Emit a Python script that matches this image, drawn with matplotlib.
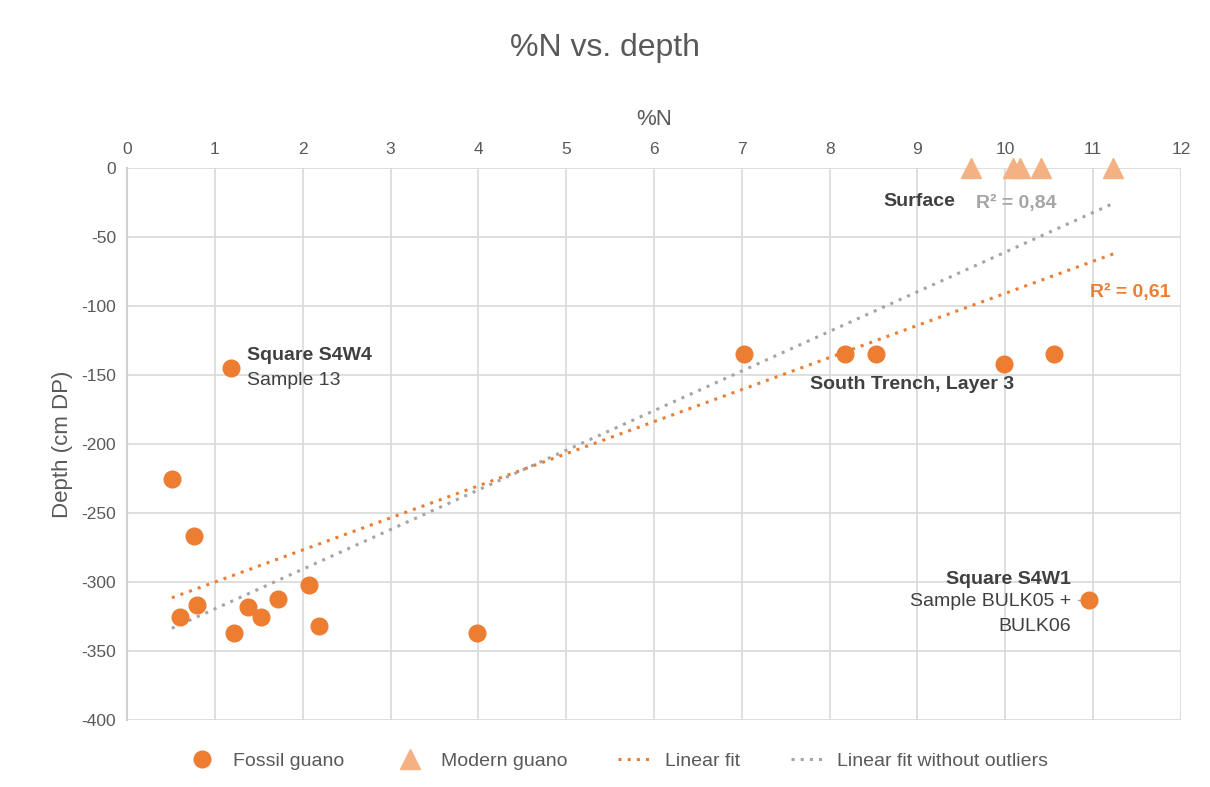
import matplotlib
matplotlib.use('Agg')
import matplotlib.pyplot as plt
import numpy as np

# fossil guano (%N, depth cm DP)
fossil_n = [1.18, 0.51, 0.76, 0.60, 0.80, 1.22, 1.38, 1.53, 1.72, 2.07, 2.18, 3.99,
            7.03, 8.17, 8.53, 9.99, 10.55, 10.95]
fossil_depth = [-145, -225, -267, -325, -317, -337, -318, -325, -312, -302, -332, -337,
                -135, -135, -135, -142, -135, -313]
# modern guano at the surface
modern_n = [9.61, 10.09, 10.17, 10.41, 11.23]
modern_depth = [0, 0, 0, 0, 0]
# outliers left out of the second fit (S4W4 sample 13, S4W1 BULK05+06)
outlier_idx = [0, 17]

orange = '#ED7D31'
light_orange = '#F4B183'
grey = '#A5A5A5'
txt = '#595959'
dark = '#404040'

plt.rcParams['font.family'] = ['Liberation Sans', 'DejaVu Sans']
plt.rcParams['axes.unicode_minus'] = False

fig = plt.figure(figsize=(12.1, 7.87), dpi=100)
ax = fig.add_axes([0.105, 0.0851, 0.871, 0.7014])

ax.set_xlim(0, 12)
ax.set_ylim(-400, 0)
ax.set_xticks(range(0, 13))
ax.set_yticks(range(-400, 1, 50))
ax.grid(True, color='#D9D9D9', linewidth=1.2)
ax.set_axisbelow(True)
for s in ['top', 'right', 'bottom']:
    ax.spines[s].set_visible(False)
ax.spines['left'].set_color('#D0D0D0')
ax.spines['left'].set_linewidth(1.5)
ax.xaxis.tick_top()
ax.xaxis.set_label_position('top')
ax.tick_params(length=0, labelsize=12.5, labelcolor=txt, pad=8)
ax.set_xlabel('%N', fontsize=16, color=txt, labelpad=12)
ax.set_ylabel('Depth (cm DP)', fontsize=16, color=txt, labelpad=6)

# fits
all_n = np.array(fossil_n + modern_n)
all_d = np.array(fossil_depth + modern_depth)
keep = [i for i in range(len(all_n)) if i not in outlier_idx]
xs = np.array([all_n.min(), all_n.max()])
p1 = np.polyfit(all_n, all_d, 1)
p2 = np.polyfit(all_n[keep], all_d[keep], 1)
ax.plot(xs, np.polyval(p1, xs), linestyle=(0, (1, 2)), color=orange, linewidth=2.2,
        label='Linear fit', zorder=2)
ax.plot(xs, np.polyval(p2, xs), linestyle=(0, (1, 2)), color=grey, linewidth=2.2,
        label='Linear fit without outliers', zorder=2)

ax.plot(fossil_n, fossil_depth, 'o', color=orange, markersize=12, label='Fossil guano',
        zorder=3, clip_on=False)
ax.plot(modern_n, modern_depth, '^', color=light_orange, markersize=14, label='Modern guano',
        zorder=3, clip_on=False)

# annotations
fs = 14
ax.text(1.37, -136, 'Square S4W4', fontsize=fs, fontweight='bold', color=dark, va='center')
ax.text(1.37, -154, 'Sample 13', fontsize=fs, color=dark, va='center')
ax.text(8.94, -157, 'South Trench, Layer 3', fontsize=fs, fontweight='bold', color=dark,
        va='center', ha='center')
ax.text(9.43, -24, 'Surface', fontsize=fs, fontweight='bold', color=dark, va='center', ha='right')
ax.text(9.67, -26, 'R² = 0,84', fontsize=fs, fontweight='bold', color=grey, va='center')
ax.text(11.88, -90, 'R² = 0,61', fontsize=fs, fontweight='bold', color=orange, va='center', ha='right')
ax.text(10.75, -298, 'Square S4W1', fontsize=fs, fontweight='bold', color=dark, va='center', ha='right')
ax.text(10.75, -314, 'Sample BULK05 +', fontsize=fs, color=dark, va='center', ha='right')
ax.text(10.75, -332, 'BULK06', fontsize=fs, color=dark, va='center', ha='right')
ax.plot([10.83, 10.95], [-313, -313], color=grey, linewidth=1, zorder=2)

fig.suptitle('%N vs. depth', fontsize=23, color=txt, y=0.958)

h, l = ax.get_legend_handles_labels()
order = [2, 3, 0, 1]
fig.legend([h[i] for i in order], [l[i] for i in order], loc='center', ncol=4,
           bbox_to_anchor=(0.51, 0.033), frameon=False, fontsize=14, labelcolor=txt,
           handlelength=1.6, handletextpad=0.8, columnspacing=2.6)

fig.savefig('out.png', dpi=100)
